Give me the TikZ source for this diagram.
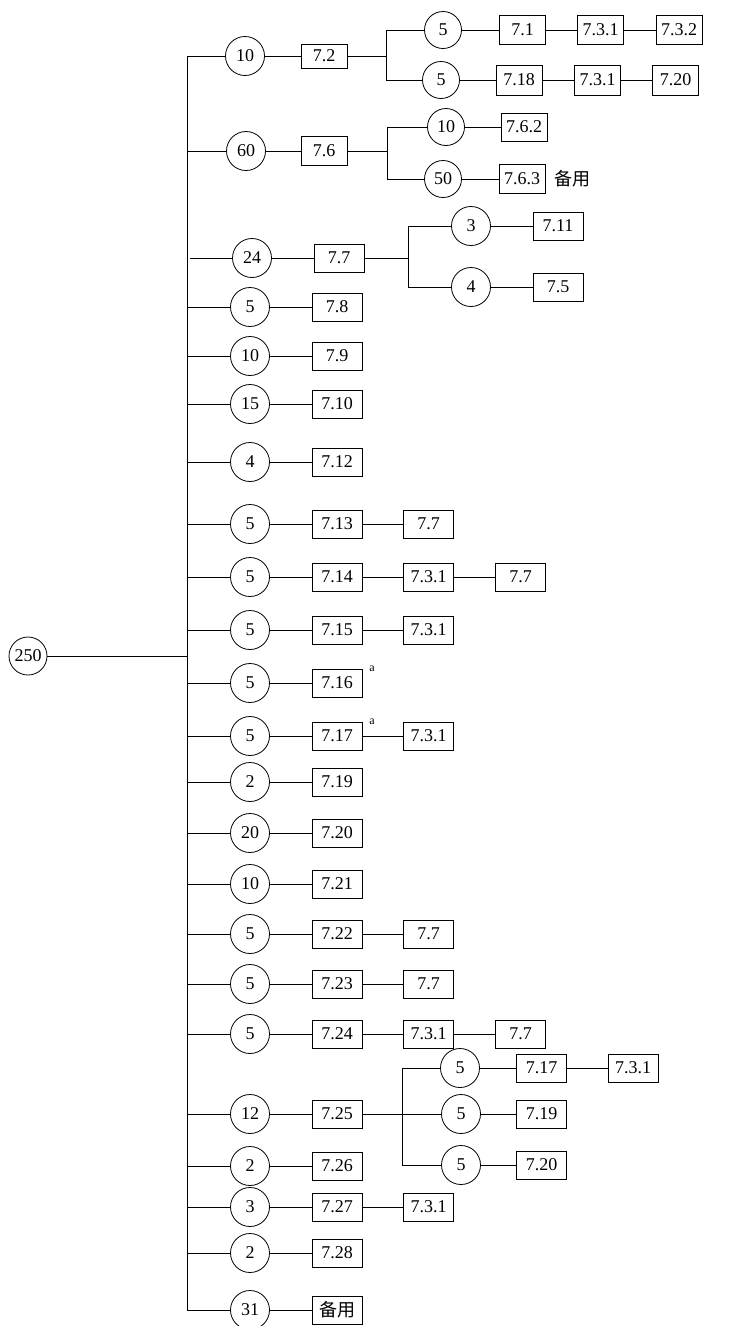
\documentclass[tikz,border=0pt]{standalone}
\usepackage{fontspec}
\setmainfont{Liberation Serif}
\newfontfamily\cjk{Noto Sans CJK SC}
\begin{document}
\begin{tikzpicture}[x=1pt,y=-1pt,
  every node/.style={font=\fontsize{18}{20}\selectfont},
  circ/.style={draw, circle, fill=white, inner sep=0pt, minimum size=39pt, line width=0.8pt},
  rbox/.style={draw, rectangle, fill=white, inner sep=0pt, minimum width=50pt, minimum height=28pt, line width=0.8pt},
  nbox/.style={rbox, minimum width=46pt},
  supa/.style={font=\fontsize{12}{13}\selectfont, inner sep=0pt},
  every path/.style={line width=0.8pt}
]
\useasboundingbox (0,0) rectangle (754,1326);

% trunk and root
\coordinate (ttop) at (187,56);
\coordinate (tbot) at (187,1310);
\draw (ttop) -- (tbot);
\node[circ, minimum size=38pt] (root) at (28,656) {250};
\coordinate (tr) at (187,656);
\draw (root) -- (tr);

% row 1
\coordinate (t1) at (187,56);
\node[circ] (c1) at (245,56) {10};
\node[nbox, minimum height=24pt] (b1) at (324,56) {7.2};
\draw (t1) -- (c1) -- (b1);
\coordinate (j1) at (386,56);
\coordinate (j1a) at (386,30);
\coordinate (j1b) at (386,80);
\draw (b1) -- (j1);
\draw (j1a) -- (j1b);
\node[circ, minimum size=37pt] (c1a) at (443,30) {5};
\node[circ, minimum size=37pt] (c1b) at (441,80) {5};
\draw (j1a) -- (c1a);
\draw (j1b) -- (c1b);
\node[nbox, minimum height=29pt] (b1a1) at (522.5,30) {7.1};
\node[nbox, minimum height=29pt] (b1a2) at (600.5,30) {7.3.1};
\node[nbox, minimum height=29pt] (b1a3) at (679,30) {7.3.2};
\draw (c1a) -- (b1a1) -- (b1a2) -- (b1a3);
\node[nbox, minimum height=30pt] (b1b1) at (519,80) {7.18};
\node[nbox, minimum height=30pt] (b1b2) at (597.5,80) {7.3.1};
\node[nbox, minimum height=30pt] (b1b3) at (675.5,80) {7.20};
\draw (c1b) -- (b1b1) -- (b1b2) -- (b1b3);

% row 2
\coordinate (t2) at (187,151);
\node[circ] (c2) at (246,151) {60};
\node[nbox, minimum height=29pt] (b2) at (324,151) {7.6};
\draw (t2) -- (c2) -- (b2);
\coordinate (j2) at (387,151);
\coordinate (j2a) at (387,127);
\coordinate (j2b) at (387,179);
\draw (b2) -- (j2);
\draw (j2a) -- (j2b);
\node[circ, minimum size=37pt] (c2a) at (446,127) {10};
\node[circ, minimum size=37pt] (c2b) at (443,179) {50};
\draw (j2a) -- (c2a);
\draw (j2b) -- (c2b);
\node[nbox] (b2a) at (524,127) {7.6.2};
\node[nbox, minimum height=29pt] (b2b) at (522,179) {7.6.3};
\draw (c2a) -- (b2a);
\draw (c2b) -- (b2b);
\node[inner sep=0pt] (spare1) at (572,179) {\cjk 备用};

% row 3
\coordinate (t3) at (190,258);
\node[circ] (c3) at (252,258) {24};
\node[rbox] (b3) at (339,258) {7.7};
\draw (t3) -- (c3) -- (b3);
\coordinate (j3) at (408,258);
\coordinate (j3a) at (408,226);
\coordinate (j3b) at (408,287);
\draw (b3) -- (j3);
\draw (j3a) -- (j3b);
\node[circ] (c3a) at (471,226) {3};
\node[circ] (c3b) at (471,287) {4};
\draw (j3a) -- (c3a);
\draw (j3b) -- (c3b);
\node[rbox] (b3a) at (558,226) {7.11};
\node[rbox] (b3b) at (558,287) {7.5};
\draw (c3a) -- (b3a);
\draw (c3b) -- (b3b);

% simple rows
\foreach \n/\y/\c/\b in {4/307/5/7.8, 5/356/10/7.9, 6/404/15/7.10, 7/462/4/7.12,
  8/524/5/7.13, 9/577/5/7.14, 10/630/5/7.15, 11/683/5/7.16, 12/736/5/7.17,
  13/782/2/7.19, 14/833/20/7.20, 15/884/10/7.21, 16/934/5/7.22, 17/984/5/7.23,
  18/1034/5/7.24, 19/1114/12/7.25, 20/1166/2/7.26, 21/1207/3/7.27, 22/1253/2/7.28,
  23/1310/31/{\cjk 备用}}{
  \coordinate (t\n) at (187,\y);
  \node[circ] (c\n) at (250,\y) {\c};
  \node[rbox] (b\n) at (337,\y) {\b};
  \draw (t\n) -- (c\n) -- (b\n);
}

% second and third columns
\node[rbox] (d8) at (428.5,524) {7.7};
\draw (b8) -- (d8);
\node[rbox] (d9) at (428.5,577) {7.3.1};
\node[rbox] (e9) at (520.5,577) {7.7};
\draw (b9) -- (d9) -- (e9);
\node[rbox] (d10) at (428.5,630) {7.3.1};
\draw (b10) -- (d10);
\node[supa] (a11) at (372,669) {a};
\node[supa] (a12) at (372,722) {a};
\node[rbox] (d12) at (428.5,736) {7.3.1};
\draw (b12) -- (d12);
\node[rbox] (d16) at (428.5,934) {7.7};
\draw (b16) -- (d16);
\node[rbox] (d17) at (428.5,984) {7.7};
\draw (b17) -- (d17);
\node[rbox] (d18) at (428.5,1034) {7.3.1};
\node[rbox] (e18) at (520.5,1034) {7.7};
\draw (b18) -- (d18) -- (e18);
\node[rbox] (d21) at (428.5,1207) {7.3.1};
\draw (b21) -- (d21);

% row 19 branch
\coordinate (j19) at (402,1114);
\coordinate (j19a) at (402,1068);
\coordinate (j19b) at (402,1165);
\draw (b19) -- (j19);
\draw (j19a) -- (j19b);
\node[circ] (c19a) at (460,1068) {5};
\node[circ] (c19b) at (461,1114) {5};
\node[circ] (c19c) at (461,1165) {5};
\draw (j19a) -- (c19a);
\draw (j19) -- (c19b);
\draw (j19b) -- (c19c);
\node[rbox] (b19a) at (541.5,1068) {7.17};
\node[rbox] (f19a) at (633,1068) {7.3.1};
\node[rbox] (b19b) at (541.5,1114) {7.19};
\node[rbox] (b19c) at (541.5,1165) {7.20};
\draw (c19a) -- (b19a) -- (f19a);
\draw (c19b) -- (b19b);
\draw (c19c) -- (b19c);
\end{tikzpicture}
\end{document}
